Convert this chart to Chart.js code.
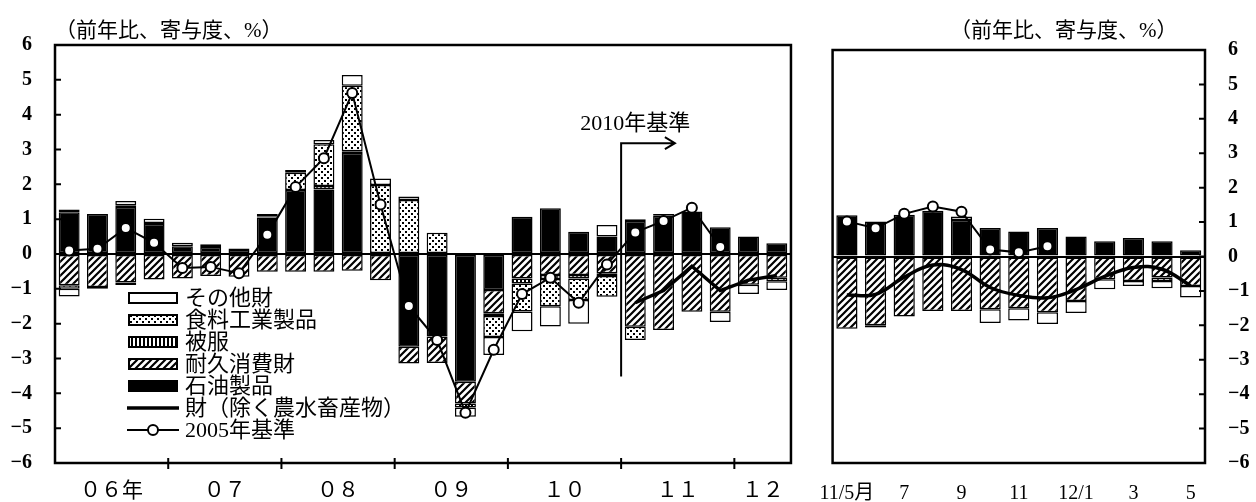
<!DOCTYPE html>
<html lang="ja">
<head>
<meta charset="utf-8">
<script src="https://cdn.jsdelivr.net/npm/chart.js@4.4.1/dist/chart.umd.min.js"></script>
<style>
  body { margin: 0; background: #fff; font-family: 'Liberation Serif', 'Noto Sans CJK JP', serif; color: #000; }
  #wrap { position: relative; width: 1256px; height: 502px; overflow: hidden; }
  #left { position: absolute; left: 0; top: 0; }
  #right { position: absolute; left: 800px; top: 0; }
  .unit { position: absolute; top: 19px; font-size: 21px; line-height: 22px; white-space: nowrap; }
  #legend { position: absolute; left: 127px; top: 287px; font-size: 22px; }
  #legend div { height: 22px; line-height: 22px; display: flex; align-items: center; white-space: nowrap; }
  #legend canvas { margin-right: 6px; }
</style>
</head>
<body>
<div id="wrap">
  <canvas id="left" width="800" height="502"></canvas>
  <canvas id="right" width="456" height="502"></canvas>
  <div class="unit" style="left:55px">（前年比、寄与度、%）</div>
  <div class="unit" style="left:950px">（前年比、寄与度、%）</div>
  <div id="legend"></div>
</div>
<script>
// 四半期（左パネル）
const quarters = [
  "06Q1", "06Q2", "06Q3", "06Q4", "07Q1", "07Q2", "07Q3", "07Q4",
  "08Q1", "08Q2", "08Q3", "08Q4", "09Q1", "09Q2", "09Q3", "09Q4",
  "10Q1", "10Q2", "10Q3", "10Q4", "11Q1", "11Q2", "11Q3", "11Q4",
  "12Q1", "12Q2"
];
const years = ["06", "07", "08", "09", "10", "11", "12"];
const yearLabels = ["０６年", "０７", "０８", "０９", "１０", "１１", "１２"];

const oilQ = [1.2, 1.15, 1.35, 0.86, 0.22, 0.2, 0.16, 1.05, 1.84, 1.85, 2.9, 0, -2.66, -2.37, -3.67, -1.03, 1.07, 1.31, 0.64, 0.5, 0.95, 1.1, 1.22, 0.77, 0.5, 0.31];
const durableQ = [-0.9, -0.95, -0.82, -0.73, -0.7, -0.63, -0.65, -0.51, -0.51, -0.51, -0.48, -0.75, -0.48, -0.76, -0.62, -0.67, -0.7, -0.6, -0.6, -0.55, -2.09, -2.18, -1.66, -1.66, -0.88, -0.68];
const clothingQ = [0.08, 0, 0.05, 0.03, 0, 0, 0, 0.02, 0, 0.1, 0.05, 0, 0, 0, 0, -0.08, -0.15, -0.12, -0.1, -0.08, 0, 0, 0, 0, 0, 0];
const foodQ = [-0.1, 0, -0.07, 0, 0, 0, 0, 0, 0.49, 1.2, 1.88, 1.98, 1.55, 0.61, -0.12, -0.6, -0.8, -0.78, -0.62, -0.6, -0.38, 0, 0, 0, 0, -0.1];
const otherQ = [-0.22, -0.05, 0.12, 0.12, 0.1, 0.08, 0, 0.08, 0.08, 0.12, 0.31, 0.19, 0.1, 0, -0.26, -0.52, -0.57, -0.58, -0.68, 0.33, 0.05, 0.05, 0, -0.29, -0.27, -0.25];
const goodsQ = [null, null, null, null, null, null, null, null, null, null, null, null, null, null, null, null, null, null, null, null, -1.4, -1.05, -0.35, -1.05, -0.75, -0.62];
const base2005Q = [0.1, 0.15, 0.75, 0.32, -0.4, -0.37, -0.55, 0.55, 1.92, 2.75, 4.62, 1.42, -1.49, -2.47, -4.56, -2.75, -1.15, -0.68, -1.4, -0.3, 0.62, 0.95, 1.33, 0.2, null, null];

// 月次（右パネル）
const months = ["11/5", "11/6", "11/7", "11/8", "11/9", "11/10", "11/11", "11/12", "12/1", "12/2", "12/3", "12/4", "12/5"];
const monthLabels = ["11/5月", "", "7", "", "9", "", "11", "", "12/1", "", "3", "", "5"];

const oilM = [1.2, 1.02, 1.21, 1.33, 1.06, 0.83, 0.73, 0.83, 0.58, 0.44, 0.54, 0.44, 0.18];
const durableM = [-2.1, -2.0, -1.74, -1.58, -1.58, -1.53, -1.5, -1.62, -1.29, -0.66, -0.71, -0.61, -0.86];
const clothingM = [0, 0, 0, 0, 0, 0, 0, 0, 0, 0, 0, 0, 0];
const foodM = [0, 0, 0, 0, 0, 0, 0, 0, 0, 0, 0, -0.1, 0];
const otherM = [0, -0.06, 0, 0, 0.1, -0.4, -0.36, -0.34, -0.35, -0.29, -0.15, -0.21, -0.33];
const goodsM = [-1.12, -1.1, -0.6, -0.25, -0.38, -0.9, -1.13, -1.2, -0.96, -0.58, -0.32, -0.37, -0.85];
const base2005M = [1.02, 0.82, 1.24, 1.45, 1.3, 0.2, 0.12, 0.3, null, null, null, null, null];

const yMin = -6, yMax = 6;

Chart.defaults.font.family = "'Liberation Serif', 'Noto Sans CJK JP', serif";
Chart.defaults.font.size = 20;
Chart.defaults.color = "#000";

// 塗りパターン
function pattern(kind) {
    const c = document.createElement("canvas");
    const g = c.getContext("2d");
    const s = kind === "hatch" ? 7 : kind === "dots" ? 6 : 4;
    c.width = s; c.height = s;
    g.fillStyle = "#fff";
    g.fillRect(0, 0, s, s);
    g.fillStyle = "#000";
    g.strokeStyle = "#000";
    if (kind === "dots") {
        g.fillRect(0, 0, 2, 2);
        g.fillRect(3, 3, 2, 2);
    } else if (kind === "stripes") {
        g.fillRect(0, 0, 2, s);
    } else if (kind === "hatch") {
        g.lineWidth = 2.2;
        g.beginPath();
        g.moveTo(-1, s + 1); g.lineTo(s + 1, -1);
        g.moveTo(-1, 1); g.lineTo(1, -1);
        g.moveTo(s - 1, s + 1); g.lineTo(s + 1, s - 1);
        g.stroke();
    }
    return g.createPattern(c, "repeat");
}
const fills = {
    oil: "#000",
    durable: pattern("hatch"),
    clothing: pattern("stripes"),
    food: pattern("dots"),
    other: "#fff"
};

function bars(label, data, fill) {
    return {
        type: "bar",
        label: label,
        data: data.map(v => (v === 0 ? null : v)),
        backgroundColor: fill,
        borderColor: "#000",
        borderWidth: 1.5,
        borderSkipped: false,
        barPercentage: 0.74,
        categoryPercentage: 1,
        order: 2
    };
}
function goodsLine(data, tension) {
    return {
        type: "line", label: "財（除く農水畜産物）", data: data,
        borderColor: "#000", borderWidth: 3.5, pointRadius: 0,
        tension: tension, stack: "goods", order: 0
    };
}
function baseLine(data) {
    return {
        type: "line", label: "2005年基準", data: data,
        borderColor: "#000", borderWidth: 2, pointRadius: 5,
        pointBackgroundColor: "#fff", pointBorderColor: "#000", pointBorderWidth: 2,
        stack: "base", order: 0
    };
}
function datasets(oil, durable, clothing, food, other, goods, base, tension) {
    return [
        bars("石油製品", oil, fills.oil),
        bars("耐久消費財", durable, fills.durable),
        bars("被服", clothing, fills.clothing),
        bars("食料工業製品", food, fills.food),
        bars("その他財", other, fills.other),
        goodsLine(goods, tension),
        baseLine(base)
    ];
}

// 枠線・内向き目盛り・年の区切り
const frame = {
    id: "frame",
    afterDraw(chart, args, opts) {
        const { ctx, chartArea: a, scales } = chart;
        ctx.save();
        ctx.strokeStyle = "#000";
        ctx.lineWidth = 2.5;
        ctx.strokeRect(a.left, a.top, a.right - a.left, a.bottom - a.top);
        ctx.lineWidth = 2;
        ctx.beginPath();
        const x0 = opts.side === "right" ? a.right : a.left;
        const d = opts.side === "right" ? -6 : 6;
        scales.y.ticks.forEach(t => {
            const py = scales.y.getPixelForValue(t.value);
            ctx.moveTo(x0, py);
            ctx.lineTo(x0 + d, py);
        });
        (opts.marks || []).forEach(v => {
            const px = scales.x.getPixelForValue(v);
            ctx.moveTo(px, a.bottom - 5);
            ctx.lineTo(px, a.bottom + 6);
        });
        ctx.stroke();
        ctx.restore();
    }
};

const yearCenters = years.map(y => {
    const idx = quarters.map((q, i) => (q.startsWith(y) ? i : -1)).filter(i => i >= 0);
    return (idx[0] + idx[idx.length - 1]) / 2;
});
const yearBreaks = quarters
    .map((q, i) => (i > 0 && q.slice(0, 2) !== quarters[i - 1].slice(0, 2) ? i - 0.5 : null))
    .filter(v => v !== null);
const rebaseAt = quarters.indexOf("11Q1") - 0.5;

// 2010年基準の注記
const rebaseNote = {
    id: "rebaseNote",
    afterDatasetsDraw(chart) {
        const { ctx, scales: { x, y } } = chart;
        const px = x.getPixelForValue(rebaseAt);
        const top = y.getPixelForValue(3.18);
        const bot = y.getPixelForValue(-3.52);
        const tip = x.getPixelForValue(rebaseAt + 1.9);
        ctx.save();
        ctx.strokeStyle = "#000";
        ctx.lineWidth = 2;
        ctx.beginPath();
        ctx.moveTo(px, bot);
        ctx.lineTo(px, top);
        ctx.lineTo(tip, top);
        ctx.moveTo(tip - 10, top - 6);
        ctx.lineTo(tip, top);
        ctx.lineTo(tip - 10, top + 6);
        ctx.stroke();
        ctx.fillStyle = "#000";
        ctx.font = "22px 'Liberation Serif', 'Noto Sans CJK JP', serif";
        ctx.textAlign = "center";
        ctx.textBaseline = "middle";
        ctx.fillText("2010年基準", x.getPixelForValue(rebaseAt + 0.5), y.getPixelForValue(3.72));
        ctx.restore();
    }
};

const zeroGrid = {
    drawTicks: false,
    lineWidth: 2,
    color: c => (c.tick && c.tick.value === 0 ? "#000" : "rgba(0,0,0,0)")
};
const minus = v => (v < 0 ? "−" + Math.abs(v) : String(v));
const tickFont = { size: 20, weight: "bold" };

// 左パネル（四半期）
const graphQuarter = new Chart(document.getElementById("left"), {
    data: {
        labels: quarters,
        datasets: datasets(oilQ, durableQ, clothingQ, foodQ, otherQ, goodsQ, base2005Q, 0)
    },
    options: {
        responsive: false,
        animation: false,
        layout: { padding: { left: 0, right: 7, top: 45, bottom: 0 } },
        plugins: {
            legend: { display: false },
            tooltip: { enabled: false },
            frame: { side: "left", marks: yearBreaks }
        },
        scales: {
            x: {
                type: "category",
                stacked: true,
                ticks: { display: false },
                grid: { display: false, drawTicks: false },
                border: { display: false },
                afterFit: s => { s.height = 0; }
            },
            yr: {
                type: "linear",
                position: "bottom",
                min: -0.5,
                max: quarters.length - 0.5,
                grid: { display: false, drawTicks: false },
                border: { display: false },
                afterBuildTicks: s => { s.ticks = yearCenters.map(v => ({ value: v })); },
                ticks: {
                    autoSkip: false, maxRotation: 0, padding: 16,
                    font: { size: 21 },
                    callback: (v, i) => yearLabels[i]
                },
                afterFit: s => { s.height = 39; }
            },
            y: {
                stacked: true,
                min: yMin,
                max: yMax,
                ticks: { stepSize: 1, padding: 23, font: tickFont, callback: minus },
                grid: zeroGrid,
                border: { display: false },
                afterFit: s => { s.width = 55; }
            }
        }
    },
    plugins: [frame, rebaseNote]
});

// 右パネル（月次）
const graphMonth = new Chart(document.getElementById("right"), {
    data: {
        labels: months,
        datasets: datasets(oilM, durableM, clothingM, foodM, otherM, goodsM, base2005M, 0.4)
    },
    options: {
        responsive: false,
        animation: false,
        layout: { padding: { left: 13, right: 0, top: 50, bottom: 0 } },
        plugins: {
            legend: { display: false },
            tooltip: { enabled: false },
            frame: { side: "right" }
        },
        scales: {
            x: {
                type: "category",
                stacked: true,
                grid: { display: false, drawTicks: false },
                border: { display: false },
                ticks: {
                    autoSkip: false, maxRotation: 0, padding: 19,
                    font: { size: 20 },
                    callback: (v, i) => monthLabels[i]
                },
                afterFit: s => { s.height = 39; }
            },
            y: {
                position: "right",
                stacked: true,
                min: yMin,
                max: yMax,
                ticks: { stepSize: 1, padding: 23, font: tickFont, callback: minus },
                grid: zeroGrid,
                border: { display: false },
                afterFit: s => { s.width = 51; }
            }
        }
    },
    plugins: [frame]
});

// 凡例
const legendOrder = ["その他財", "食料工業製品", "被服", "耐久消費財", "石油製品", "財（除く農水畜産物）", "2005年基準"];
const legendBox = document.getElementById("legend");
legendOrder.forEach(name => {
    const ds = graphQuarter.data.datasets.find(d => d.label === name);
    const row = document.createElement("div");
    const sw = document.createElement("canvas");
    sw.width = 52; sw.height = 16;
    const g = sw.getContext("2d");
    g.strokeStyle = "#000";
    if (ds.type === "bar") {
        g.fillStyle = ds.backgroundColor;
        g.fillRect(2, 3, 48, 10);
        g.lineWidth = 2;
        g.strokeRect(2, 3, 48, 10);
    } else {
        g.lineWidth = ds.borderWidth;
        g.beginPath();
        g.moveTo(0, 8); g.lineTo(52, 8);
        g.stroke();
        if (ds.pointRadius > 0) {
            g.beginPath();
            g.arc(26, 8, 5, 0, Math.PI * 2);
            g.fillStyle = "#fff";
            g.fill();
            g.lineWidth = 2;
            g.stroke();
        }
    }
    const label = document.createElement("span");
    label.textContent = name;
    row.appendChild(sw);
    row.appendChild(label);
    legendBox.appendChild(row);
});
</script>
</body>
</html>
